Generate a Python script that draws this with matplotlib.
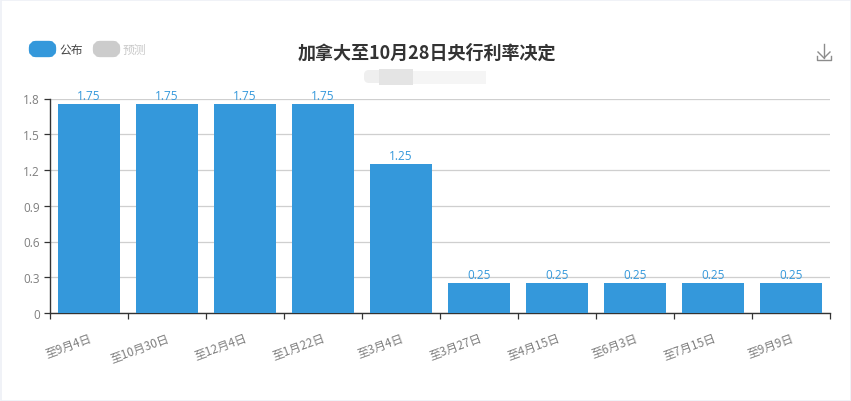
import matplotlib
matplotlib.use('Agg')
import matplotlib.pyplot as plt
from matplotlib.patches import FancyBboxPatch, Rectangle

plt.rcParams['font.family'] = ['Noto Sans CJK SC', 'DejaVu Sans']

# Donnees
dates = ['至9月4日', '至10月30日', '至12月4日', '至1月22日', '至3月4日',
         '至3月27日', '至4月15日', '至6月3日', '至7月15日', '至9月9日']
publie = [1.75, 1.75, 1.75, 1.75, 1.25, 0.25, 0.25, 0.25, 0.25, 0.25]
y_ticks = [0, 0.3, 0.6, 0.9, 1.2, 1.5, 1.8]
y_labels = ['0', '0.3', '0.6', '0.9', '1.2', '1.5', '1.8']
titre = '加拿大至10月28日央行利率决定'
legende = ['公布', '预测']

BLEU = '#3498db'
GRIS = '#cccccc'
TEXTE = '#7f7f7f'

W, H = 851, 402
fig = plt.figure(figsize=(W / 100, H / 100), dpi=100, facecolor='white')

# Axe principal, place au pixel pres
ax = fig.add_axes([49.5 / W, (H - 314) / H, 780.5 / W, 214.5 / H])
pos = list(range(len(dates)))
bars = ax.bar(pos, publie, width=0.795, color=BLEU, zorder=3)
ax.bar_label(bars, labels=[f'{v:.2f}' for v in publie], padding=1.5,
             color=BLEU, fontsize=8.5, family=['Open Sans', 'DejaVu Sans'])

ax.set_xlim(-0.5, len(dates) - 0.5)
ax.set_ylim(0, 1.8)
ax.set_yticks(y_ticks)
ax.set_yticklabels(y_labels, color=TEXTE, fontsize=8.5, family=['Open Sans', 'DejaVu Sans'])
ax.grid(axis='y', color='#cfcfcf', lw=0.9, zorder=0)
ax.set_axisbelow(True)

# Graduations aux limites de bandes, etiquettes au centre
ax.set_xticks([p - 0.5 for p in pos] + [len(dates) - 0.5])
ax.set_xticklabels([])
ax.set_xticks(pos, minor=True)
ax.set_xticklabels(dates, minor=True, rotation=20, ha='right', va='top',
                   rotation_mode='anchor', color=TEXTE, fontsize=8.5)
ax.tick_params(axis='x', which='minor', length=0, pad=13)
ax.tick_params(axis='both', which='major', length=4, width=0.9, color='#333333')
ax.tick_params(axis='y', pad=3)

for cote in ['top', 'right']:
    ax.spines[cote].set_visible(False)
for cote in ['left', 'bottom']:
    ax.spines[cote].set_color('#333333')
    ax.spines[cote].set_linewidth(1.0)

# Calque en pixels pour le titre, la legende et le reste
over = fig.add_axes([0, 0, 1, 1], facecolor='none')
over.set_xlim(0, W)
over.set_ylim(H, 0)
over.axis('off')

over.add_patch(Rectangle((0.5, 0.5), W - 1, H - 1, fill=False, ec='#eef0f6', lw=1.2))
over.text(427, 53, titre, ha='center', va='center', fontsize=13, fontweight='bold', color='#333333')

for x0, couleur, txt, col_txt in [(30, BLEU, legende[0], '#444444'), (94, GRIS, legende[1], '#c8c8c8')]:
    over.add_patch(FancyBboxPatch((x0 + 3, 46), 19, 8, boxstyle='round,pad=0,rounding_size=3',
                                  fc=couleur, ec=couleur, lw=6))
    over.text(x0 + 29, 50.5, txt, ha='left', va='center', fontsize=8.5, color=col_txt)

# Tache floue sous le titre
over.add_patch(FancyBboxPatch((364, 71), 50, 13, boxstyle='round,pad=0,rounding_size=5', fc='#efefef', ec='none'))
over.add_patch(Rectangle((379, 70), 34, 16, fc='#e4e4e4', ec='none'))
over.add_patch(Rectangle((413, 72), 73, 13, fc='#f5f5f5', ec='none'))

# Icone de telechargement
col_ic = '#8c8c8c'
over.plot([824, 824], [45, 59], color=col_ic, lw=1)
over.plot([818, 824, 830], [53, 59, 53], color=col_ic, lw=1)
over.plot([817, 817, 831, 831], [57, 61, 61, 57], color=col_ic, lw=1)

fig.savefig('out.png', dpi=100)
